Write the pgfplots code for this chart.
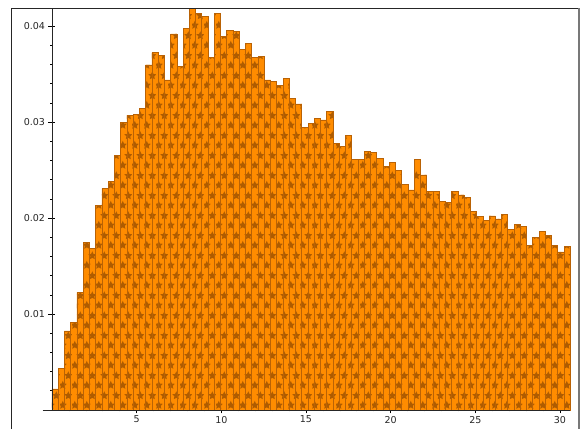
\documentclass[border=0pt]{standalone}
\usepackage{pgfplots}
\pgfplotsset{compat=1.18}
\usepackage{fontspec}
\setmainfont{DejaVu Sans}
\usetikzlibrary{patterns}

\definecolor{barfill}{RGB}{255,140,0}
\definecolor{baredge}{RGB}{185,98,5}
\definecolor{starcol}{RGB}{175,92,0}
\definecolor{framegray}{RGB}{120,120,120}

\newcommand\outerR{4.6pt}
\newcommand\innerR{2.2pt}
% five-pointed star centred at (#1,#2)
\newcommand\hatchstar[2]{%
  \pgfpathmoveto{\pgfpointadd{\pgfqpoint{#1}{#2}}{\pgfpointpolar{90}{\outerR}}}%
  \pgfpathlineto{\pgfpointadd{\pgfqpoint{#1}{#2}}{\pgfpointpolar{126}{\innerR}}}%
  \pgfpathlineto{\pgfpointadd{\pgfqpoint{#1}{#2}}{\pgfpointpolar{162}{\outerR}}}%
  \pgfpathlineto{\pgfpointadd{\pgfqpoint{#1}{#2}}{\pgfpointpolar{198}{\innerR}}}%
  \pgfpathlineto{\pgfpointadd{\pgfqpoint{#1}{#2}}{\pgfpointpolar{234}{\outerR}}}%
  \pgfpathlineto{\pgfpointadd{\pgfqpoint{#1}{#2}}{\pgfpointpolar{270}{\innerR}}}%
  \pgfpathlineto{\pgfpointadd{\pgfqpoint{#1}{#2}}{\pgfpointpolar{306}{\outerR}}}%
  \pgfpathlineto{\pgfpointadd{\pgfqpoint{#1}{#2}}{\pgfpointpolar{342}{\innerR}}}%
  \pgfpathlineto{\pgfpointadd{\pgfqpoint{#1}{#2}}{\pgfpointpolar{18}{\outerR}}}%
  \pgfpathlineto{\pgfpointadd{\pgfqpoint{#1}{#2}}{\pgfpointpolar{54}{\innerR}}}%
  \pgfpathclose}

% offset grid of filled stars
\pgfdeclarepatternformonly{starhatch}{\pgfqpoint{0pt}{0pt}}{\pgfqpoint{12pt}{20pt}}{\pgfqpoint{12pt}{20pt}}{%
  \hatchstar{3pt}{5pt}%
  \hatchstar{9pt}{15pt}%
  \pgfusepath{fill}}

\begin{document}
\begin{tikzpicture}
\begin{axis}[
  width=583pt, height=429pt, scale only axis,
  xmin=-3.07, xmax=31.36, ymin=-0.00198, ymax=0.04271,
  axis lines=center, axis line style={draw=none},
  clip=false,
  xtick={5,10,15,20,25,30}, xticklabels={5,10,15,20,25,30},
  minor xtick={1,2,...,30},
  ytick={0.01,0.02,0.03,0.04}, yticklabels={0.01,0.02,0.03,0.04},
  minor ytick={0.002,0.004,0.006,0.008,0.012,0.014,0.016,0.018,0.022,0.024,0.026,0.028,0.032,0.034,0.036,0.038},
  scaled y ticks=false, scaled x ticks=false,
  tick align=center, major tick length=7pt, minor tick length=3pt,
  tick style={black, line width=0.6pt},
  ticklabel style={font=\fontsize{9.5}{11}\selectfont, text=black!85},
  xticklabel style={yshift=1pt},
  /pgf/number format/assume math mode=true,
]
\coordinate (bl) at (rel axis cs:0,0);
\coordinate (tr) at (rel axis cs:1,1);

% histogram: left bin edges and densities (last row closes the final bin)
\addplot[ybar interval, fill=barfill, draw=baredge, line width=0.7pt,
         postaction={pattern=starhatch, pattern color=starcol}]
coordinates {
(0.000,0.00219) (0.369,0.00430) (0.738,0.00823) (1.106,0.00913) (1.475,0.01226)
(1.844,0.01743) (2.213,0.01684) (2.581,0.02135) (2.950,0.02306) (3.319,0.02378)
(3.688,0.02656) (4.056,0.03000) (4.425,0.03070) (4.794,0.03076) (5.163,0.03139)
(5.532,0.03594) (5.900,0.03722) (6.269,0.03691) (6.638,0.03438) (7.007,0.03917)
(7.375,0.03576) (7.744,0.03976) (8.113,0.04180) (8.482,0.04132) (8.850,0.04097)
(9.219,0.03674) (9.588,0.04132) (9.957,0.03889) (10.326,0.03951) (10.694,0.03941)
(11.063,0.03757) (11.432,0.03820) (11.801,0.03670) (12.169,0.03680) (12.538,0.03438)
(12.907,0.03424) (13.276,0.03385) (13.644,0.03458) (14.013,0.03247) (14.382,0.03188)
(14.751,0.02941) (15.120,0.02986) (15.488,0.03040) (15.857,0.03021) (16.226,0.03108)
(16.595,0.02778) (16.963,0.02743) (17.332,0.02858) (17.701,0.02611) (18.070,0.02611)
(18.439,0.02691) (18.807,0.02680) (19.176,0.02622) (19.545,0.02535) (19.914,0.02576)
(20.282,0.02500) (20.651,0.02351) (21.020,0.02292) (21.389,0.02611) (21.757,0.02448)
(22.126,0.02274) (22.495,0.02281) (22.864,0.02177) (23.233,0.02163) (23.601,0.02281)
(23.970,0.02240) (24.339,0.02215) (24.708,0.02066) (25.076,0.02014) (25.445,0.01979)
(25.814,0.02021) (26.183,0.01990) (26.551,0.02038) (26.920,0.01885) (27.289,0.01930)
(27.658,0.01910) (28.027,0.01715) (28.395,0.01799) (28.764,0.01861) (29.133,0.01816)
(29.502,0.01715) (29.870,0.01646) (30.239,0.01705) (30.608,0.01705)
};

% axis lines crossing at the origin
\draw[black!85, line width=0.7pt] (axis cs:0,0) -- (axis cs:0,0.04184);
\draw[black!85, line width=0.7pt] (axis cs:-0.55,0) -- (axis cs:30.6,0);

% surrounding frame
\draw[black!85, line width=0.8pt] (axis cs:-2.42,-0.00198) -- (axis cs:-2.42,0.04184) -- (axis cs:31.13,0.04184);
\draw[framegray, line width=1.5pt] (axis cs:31.13,0.04184) -- (axis cs:31.13,-0.00198);
\end{axis}
\pgfresetboundingbox
\useasboundingbox (bl) rectangle (tr);
\end{tikzpicture}
\end{document}
